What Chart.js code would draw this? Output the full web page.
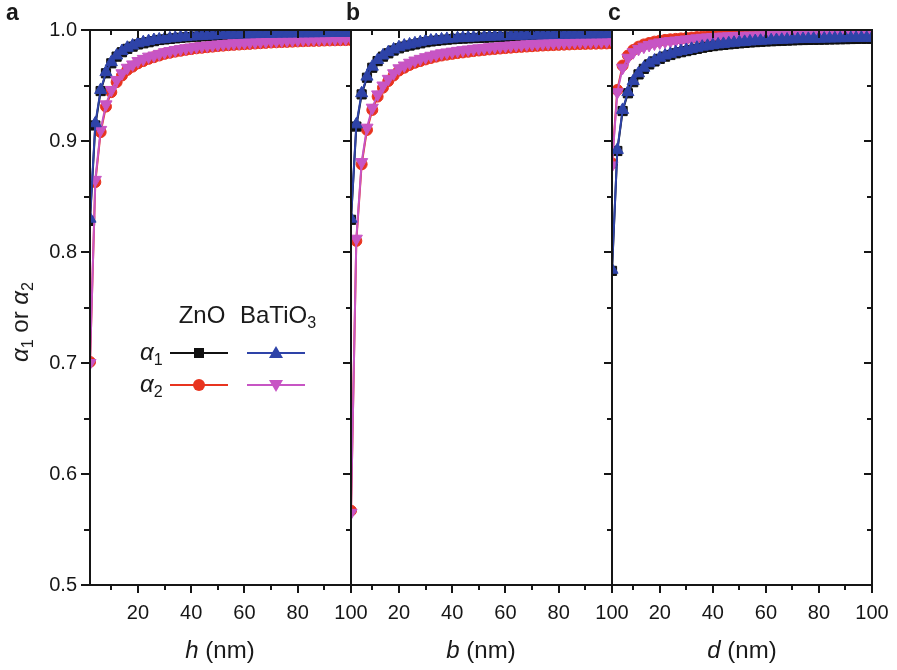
<!DOCTYPE html>
<html>
<head>
<meta charset="utf-8">
<script src="https://cdn.jsdelivr.net/npm/chart.js@4.4.1/dist/chart.umd.min.js"></script>
<style>
  html, body { margin: 0; padding: 0; background: #fff; }
  #wrap { position: relative; width: 897px; height: 670px; background: #fff; overflow: hidden;
          font-family: "Liberation Sans", Arial, sans-serif; color: #1a1a1a; }
  #wrap canvas { position: absolute; left: 0; top: 0; }
  .t { position: absolute; white-space: nowrap; line-height: 1; }
  .s { font-size: 0.67em; position: relative; top: 0.32em; }
</style>
</head>
<body>
<div id="wrap">
  <canvas id="pa" width="897" height="670"></canvas>
  <canvas id="pb" width="897" height="670"></canvas>
  <canvas id="pc" width="897" height="670"></canvas>
</div>
<script>
// x positions shared by all three panels (nm)
const xValues = [2, 4, 6, 8, 10, 12, 14, 16, 18, 20,
  22, 24, 26, 28, 30, 32, 34, 36, 38, 40,
  42, 44, 46, 48, 50, 52, 54, 56, 58, 60,
  62, 64, 66, 68, 70, 72, 74, 76, 78, 80,
  82, 84, 86, 88, 90, 92, 94, 96, 98, 100];

const xTicks = [20, 40, 60, 80, 100];
const xMinor = [10, 30, 50, 70, 90];
const yTicks = [0.5, 0.6, 0.7, 0.8, 0.9, 1.0];
const yMinor = [0.55, 0.65, 0.75, 0.85, 0.95];

// panel a: alpha vs h
const aZnO1 = [0.828, 0.914, 0.945, 0.961, 0.970, 0.976, 0.980, 0.983, 0.985, 0.987,
  0.988, 0.989, 0.990, 0.991, 0.9915, 0.992, 0.9925, 0.993, 0.9934, 0.9937,
  0.994, 0.9943, 0.9946, 0.9948, 0.995, 0.9952, 0.9954, 0.9955, 0.9957, 0.9958,
  0.9959, 0.996, 0.9961, 0.9962, 0.9963, 0.9964, 0.9965, 0.9965, 0.9966, 0.9967,
  0.9967, 0.9968, 0.9968, 0.9969, 0.9969, 0.997, 0.997, 0.9971, 0.9971, 0.9972];
const aZnO2 = [0.701, 0.863, 0.908, 0.931, 0.944, 0.953, 0.959, 0.964, 0.967, 0.970,
  0.972, 0.974, 0.9755, 0.977, 0.9785, 0.9795, 0.9805, 0.9813, 0.9821, 0.9828,
  0.9835, 0.984, 0.9845, 0.985, 0.9855, 0.9859, 0.9863, 0.9866, 0.9869, 0.9872,
  0.9875, 0.9878, 0.9881, 0.9884, 0.9887, 0.9889, 0.9891, 0.9893, 0.9895, 0.9897,
  0.9899, 0.9901, 0.9902, 0.9903, 0.9905, 0.9906, 0.9907, 0.9908, 0.9909, 0.991];
const aBTO1 = [0.830, 0.916, 0.946, 0.962, 0.971, 0.977, 0.981, 0.984, 0.986, 0.988,
  0.989, 0.990, 0.991, 0.9915, 0.992, 0.9925, 0.993, 0.9934, 0.9938, 0.9941,
  0.9944, 0.9947, 0.9949, 0.9951, 0.9953, 0.9955, 0.9957, 0.9958, 0.996, 0.9961,
  0.9962, 0.9963, 0.9964, 0.9965, 0.9966, 0.9967, 0.9968, 0.9968, 0.9969, 0.997,
  0.997, 0.9971, 0.9971, 0.9972, 0.9972, 0.9973, 0.9973, 0.9974, 0.9974, 0.9975];
const aBTO2 = [0.700, 0.865, 0.910, 0.933, 0.946, 0.955, 0.961, 0.966, 0.969, 0.972,
  0.974, 0.976, 0.977, 0.9785, 0.980, 0.981, 0.982, 0.9828, 0.9836, 0.9843,
  0.985, 0.9855, 0.986, 0.9865, 0.987, 0.9874, 0.9878, 0.9881, 0.9884, 0.9887,
  0.989, 0.9893, 0.9896, 0.9899, 0.9902, 0.9904, 0.9906, 0.9908, 0.991, 0.9912,
  0.9914, 0.9916, 0.9917, 0.9918, 0.992, 0.9921, 0.9922, 0.9923, 0.9924, 0.9925];

// panel b: alpha vs b
const bZnO1 = [0.829, 0.913, 0.942, 0.957, 0.966, 0.972, 0.976, 0.979, 0.9815, 0.9835,
  0.985, 0.986, 0.987, 0.988, 0.989, 0.9897, 0.9903, 0.9908, 0.9913, 0.9917,
  0.992, 0.9923, 0.9925, 0.9927, 0.9929, 0.9931, 0.9933, 0.9935, 0.9937, 0.9938,
  0.994, 0.9941, 0.9942, 0.9944, 0.9945, 0.9946, 0.9947, 0.9948, 0.9949, 0.995,
  0.9951, 0.9952, 0.9953, 0.9954, 0.9954, 0.9955, 0.9956, 0.9956, 0.9957, 0.9958];
const bZnO2 = [0.567, 0.810, 0.879, 0.910, 0.928, 0.940, 0.948, 0.954, 0.959, 0.9635,
  0.966, 0.9685, 0.9705, 0.972, 0.9735, 0.9748, 0.976, 0.977, 0.9778, 0.9785,
  0.9792, 0.9798, 0.9804, 0.981, 0.9815, 0.982, 0.9825, 0.9829, 0.9833, 0.9837,
  0.9841, 0.9845, 0.9848, 0.9851, 0.9854, 0.9857, 0.986, 0.9862, 0.9864, 0.9866,
  0.9868, 0.987, 0.9872, 0.9874, 0.9875, 0.9876, 0.9877, 0.9878, 0.9879, 0.988];
const bBTO1 = [0.830, 0.915, 0.943, 0.958, 0.967, 0.973, 0.977, 0.980, 0.9825, 0.9845,
  0.986, 0.987, 0.988, 0.989, 0.990, 0.9905, 0.991, 0.9915, 0.992, 0.9923,
  0.9926, 0.9929, 0.9931, 0.9933, 0.9935, 0.9937, 0.9939, 0.9941, 0.9943, 0.9944,
  0.9946, 0.9947, 0.9948, 0.995, 0.9951, 0.9952, 0.9953, 0.9954, 0.9955, 0.9956,
  0.9957, 0.9958, 0.9959, 0.996, 0.996, 0.9961, 0.9962, 0.9962, 0.9963, 0.9964];
const bBTO2 = [0.565, 0.812, 0.881, 0.912, 0.930, 0.942, 0.950, 0.956, 0.961, 0.9655,
  0.968, 0.9705, 0.9725, 0.974, 0.9755, 0.9768, 0.978, 0.979, 0.9798, 0.9805,
  0.9812, 0.9818, 0.9824, 0.983, 0.9835, 0.984, 0.9845, 0.9849, 0.9853, 0.9857,
  0.9861, 0.9865, 0.9868, 0.9871, 0.9874, 0.9877, 0.988, 0.9882, 0.9884, 0.9886,
  0.9888, 0.989, 0.9892, 0.9894, 0.9895, 0.9896, 0.9897, 0.9898, 0.9899, 0.990];

// panel c: alpha vs d
const cZnO1 = [0.783, 0.891, 0.927, 0.943, 0.953, 0.960, 0.965, 0.969, 0.9717, 0.974,
  0.976, 0.9775, 0.979, 0.980, 0.981, 0.982, 0.983, 0.984, 0.9848, 0.9855,
  0.9861, 0.9866, 0.9871, 0.9876, 0.988, 0.9884, 0.9888, 0.9891, 0.9894, 0.9897,
  0.9899, 0.9901, 0.9903, 0.9905, 0.9907, 0.9909, 0.991, 0.9911, 0.9912, 0.9913,
  0.9914, 0.9915, 0.9916, 0.9917, 0.9918, 0.9919, 0.992, 0.9921, 0.9921, 0.9922];
const cZnO2 = [0.880, 0.946, 0.968, 0.977, 0.982, 0.985, 0.987, 0.9883, 0.9895, 0.9904,
  0.9911, 0.9916, 0.992, 0.9924, 0.9928, 0.9932, 0.9936, 0.994, 0.9943, 0.9946,
  0.9948, 0.995, 0.9952, 0.9954, 0.9956, 0.9957, 0.9958, 0.9959, 0.996, 0.9961,
  0.9962, 0.9962, 0.9963, 0.9963, 0.9964, 0.9964, 0.9965, 0.9965, 0.9965, 0.9966,
  0.9966, 0.9966, 0.9967, 0.9967, 0.9967, 0.9967, 0.9968, 0.9968, 0.9968, 0.9969];
const cBTO1 = [0.784, 0.892, 0.928, 0.944, 0.954, 0.961, 0.966, 0.970, 0.9725, 0.975,
  0.977, 0.9785, 0.980, 0.981, 0.982, 0.983, 0.984, 0.985, 0.9857, 0.9864,
  0.987, 0.9875, 0.988, 0.9885, 0.9889, 0.9893, 0.9897, 0.990, 0.9903, 0.9906,
  0.9908, 0.991, 0.9912, 0.9914, 0.9916, 0.9918, 0.9919, 0.992, 0.9921, 0.9922,
  0.9923, 0.9924, 0.9925, 0.9926, 0.9927, 0.9928, 0.9929, 0.993, 0.993, 0.9931];
const cBTO2 = [0.878, 0.944, 0.966, 0.975, 0.980, 0.983, 0.985, 0.9865, 0.9878, 0.9888,
  0.9896, 0.990, 0.9905, 0.991, 0.9915, 0.992, 0.9925, 0.993, 0.9933, 0.9936,
  0.9939, 0.9941, 0.9943, 0.9945, 0.9947, 0.9948, 0.9949, 0.995, 0.9951, 0.9952,
  0.9953, 0.9953, 0.9954, 0.9954, 0.9955, 0.9955, 0.9956, 0.9956, 0.9956, 0.9957,
  0.9957, 0.9957, 0.9958, 0.9958, 0.9958, 0.9958, 0.9959, 0.9959, 0.9959, 0.996];

const FONT = '"Liberation Sans", Arial, sans-serif';
const INK = '#161616';
const C_ZNO1 = '#111111';
const C_ZNO2 = '#e8341f';
const C_BTO1 = '#2e43a8';
const C_BTO2 = '#c755c4';

function series(label, ys, color, style, rot, r) {
  return {
    label: label,
    data: xValues.map((x, i) => ({ x: x, y: ys[i] })),
    borderColor: color,
    backgroundColor: color,
    borderWidth: 2,
    pointStyle: style,
    pointRotation: rot,
    pointRadius: r,
    pointBorderWidth: 1,
    pointBorderColor: color,
    pointBackgroundColor: color,
    tension: 0
  };
}

function seg(ctx, x1, y1, x2, y2) {
  ctx.beginPath();
  ctx.moveTo(x1, y1);
  ctx.lineTo(x2, y2);
  ctx.stroke();
}

// box + tick marks: top/right point inward, bottom (and left on panel a) point outward
const framePlugin = {
  id: 'frame',
  defaults: { left: false },
  afterDraw(chart, args, opts) {
    const ctx = chart.ctx;
    const a = chart.chartArea;
    const sx = chart.scales.x, sy = chart.scales.y;
    ctx.save();
    ctx.fillStyle = INK;
    ctx.fillRect(a.left - 1, a.top - 1, a.right - a.left + 2, 2);
    ctx.fillRect(a.left - 1, a.bottom - 1, a.right - a.left + 2, 2);
    ctx.fillRect(a.left - 1, a.top - 1, 2, a.bottom - a.top + 2);
    ctx.fillRect(a.right - 1, a.top - 1, 2, a.bottom - a.top + 2);
    const vt = (v, len) => {
      const px = Math.round(sx.getPixelForValue(v));
      ctx.fillRect(px - 1, a.bottom, 2, len);
      ctx.fillRect(px - 1, a.top, 2, len);
    };
    const ht = (v, len) => {
      const py = Math.round(sy.getPixelForValue(v));
      ctx.fillRect(a.right - len, py - 1, len, 2);
      if (opts.left) ctx.fillRect(a.left - len - 1, py - 1, len + 1, 2);
    };
    xTicks.forEach(v => vt(v, 8));
    xMinor.forEach(v => vt(v, 5));
    yTicks.forEach(v => ht(v, 8));
    yMinor.forEach(v => ht(v, 5));
    ctx.restore();
  }
};

// legend samples drawn inside panel a
const legendPlugin = {
  id: 'legendSamples',
  afterDraw(chart) {
    const ctx = chart.ctx;
    ctx.save();
    ctx.lineWidth = 2;
    const rows = [
      { y: 353, items: [[C_ZNO1, 'square'], [C_BTO1, 'up']] },
      { y: 385, items: [[C_ZNO2, 'circle'], [C_BTO2, 'down']] }
    ];
    const cols = [[170, 228, 199], [247, 305, 276]];
    rows.forEach(row => {
      row.items.forEach((it, k) => {
        const [c, shape] = it;
        const [x1, x2, cx] = cols[k];
        ctx.strokeStyle = c;
        ctx.fillStyle = c;
        seg(ctx, x1, row.y, x2, row.y);
        ctx.beginPath();
        if (shape === 'square') ctx.rect(cx - 5, row.y - 5, 10, 10);
        if (shape === 'circle') ctx.arc(cx, row.y, 6, 0, Math.PI * 2);
        if (shape === 'up') { ctx.moveTo(cx, row.y - 7); ctx.lineTo(cx - 7, row.y + 5); ctx.lineTo(cx + 7, row.y + 5); }
        if (shape === 'down') { ctx.moveTo(cx, row.y + 7); ctx.lineTo(cx - 7, row.y - 5); ctx.lineTo(cx + 7, row.y - 5); }
        ctx.closePath();
        ctx.fill();
      });
    });
    ctx.restore();
  }
};

function makePanel(id, sets, padLeft, padRight, showY, plugins) {
  return new Chart(document.getElementById(id), {
    type: 'line',
    data: {
      // first dataset is painted last (on top)
      datasets: [
        series('BaTiO3 α1', sets[2], C_BTO1, 'triangle', 0, 7),
        series('BaTiO3 α2', sets[3], C_BTO2, 'triangle', 180, 7),
        series('ZnO α1', sets[0], C_ZNO1, 'rect', 0, 6.5),
        series('ZnO α2', sets[1], C_ZNO2, 'circle', 0, 5.5)
      ]
    },
    options: {
      responsive: false,
      animation: false,
      devicePixelRatio: 1,
      layout: { padding: { left: padLeft, right: padRight, top: 30, bottom: 0 } },
      plugins: {
        legend: { display: false },
        tooltip: { enabled: false },
        frame: { left: showY }
      },
      scales: {
        x: {
          type: 'linear',
          min: 2,
          max: 100,
          grid: { display: false, drawTicks: false },
          border: { display: false },
          afterBuildTicks: s => { s.ticks = xTicks.map(v => ({ value: v })); },
          afterFit: s => { s.height = 85; s.paddingLeft = 0; s.paddingRight = 0; },
          ticks: {
            autoSkip: false,
            maxRotation: 0,
            padding: 16,
            color: INK,
            font: { family: FONT, size: 20 },
            callback: v => String(v)
          }
        },
        y: {
          type: 'linear',
          min: 0.5,
          max: 1.0,
          display: showY,
          grid: { display: false, drawTicks: false },
          border: { display: false },
          afterBuildTicks: s => { s.ticks = yTicks.map(v => ({ value: v })); },
          afterFit: s => { s.width = showY ? 90 : 0; s.paddingTop = 0; s.paddingBottom = 0; },
          ticks: {
            padding: 13,
            color: INK,
            font: { family: FONT, size: 20 },
            callback: v => v.toFixed(1)
          }
        }
      }
    },
    plugins: plugins
  });
}

makePanel('pa', [aZnO1, aZnO2, aBTO1, aBTO2], 0, 546, true, [framePlugin, legendPlugin]);
makePanel('pb', [bZnO1, bZnO2, bBTO1, bBTO2], 351, 285, false, [framePlugin]);
makePanel('pc', [cZnO1, cZnO2, cBTO1, cBTO2], 612, 25, false, [framePlugin]);

// text overlays
const wrap = document.getElementById('wrap');
function text(html, x, base, size, o) {
  o = o || {};
  const d = document.createElement('div');
  d.className = 't';
  d.innerHTML = html;
  d.style.fontSize = size + 'px';
  d.style.left = x + 'px';
  d.style.top = (base - 0.846 * size) + 'px';
  if (o.center) d.style.transform = 'translateX(-50%)';
  if (o.bold) d.style.fontWeight = 'bold';
  wrap.appendChild(d);
  return d;
}

text('a', 6, 20, 23, { bold: true });
text('b', 346, 20, 23, { bold: true });
text('c', 608, 20, 23, { bold: true });

text('<i>h</i> (nm)', 220, 658, 24, { center: true });
text('<i>b</i> (nm)', 481, 658, 24, { center: true });
text('<i>d</i> (nm)', 742, 658, 24, { center: true });

const yt = document.createElement('div');
yt.className = 't';
yt.style.fontSize = '24px';
yt.style.left = '20px';
yt.style.top = '322px';
yt.style.transform = 'translate(-50%, -50%) rotate(-90deg)';
yt.innerHTML = '<i>α</i><span class="s">1</span> or <i>α</i><span class="s">2</span>';
wrap.appendChild(yt);

text('ZnO', 202, 323, 24, { center: true });
text('BaTiO<span class="s">3</span>', 240, 323, 24);
text('<i>α</i><span class="s">1</span>', 140, 360, 24);
text('<i>α</i><span class="s">2</span>', 140, 392, 24);
</script>
</body>
</html>
